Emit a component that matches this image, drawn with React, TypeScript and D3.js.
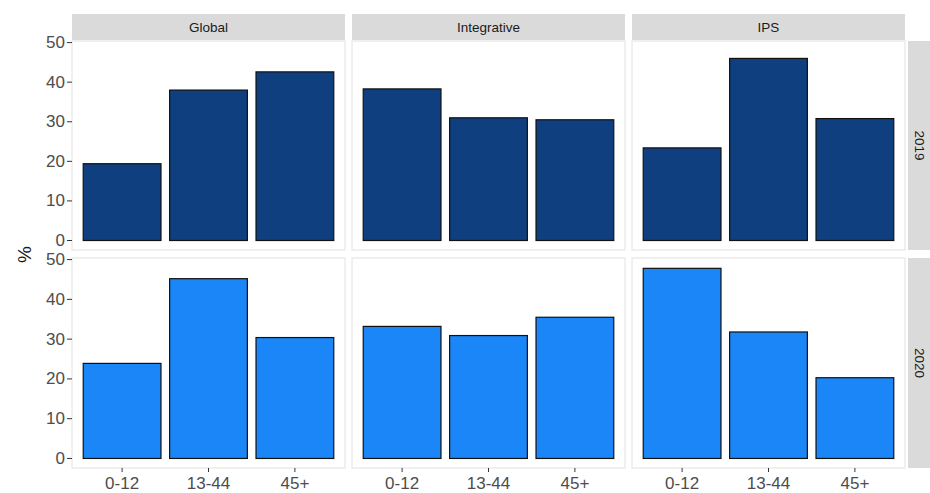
import React from "react";
import * as d3 from "d3";

const groups = ["Global", "Integrative", "IPS"];
const years = ["2019", "2020"];
const ageBands = ["0-12", "13-44", "45+"];
const values2019 = [
  [19.4, 38.0, 42.6],
  [38.3, 31.0, 30.5],
  [23.4, 46.0, 30.8],
];
const values2020 = [
  [23.9, 45.2, 30.4],
  [33.2, 30.9, 35.5],
  [47.8, 31.8, 20.3],
];
const yTicks = [0, 10, 20, 30, 40, 50];
const yearColors = ["#0f3f7f", "#1a86f7"];

const W = 930;
const H = 493;
const panelLeft = 72;
const panelW = 273;
const colGap = 7;
const rowTops = [41, 258];
const panelHs = [209, 210];
const stripTop = 14;
const font = "Liberation Sans, Arial, sans-serif";

export default function App() {
  const allValues = [values2019, values2020];
  const yRows = [
    d3.scaleLinear().domain([-2.4, 50.4]).range([rowTops[0] + panelHs[0], rowTops[0]]),
    d3.scaleLinear().domain([-2.4, 50.4]).range([rowTops[1] + panelHs[1], rowTops[1]]),
  ];
  return (
    <svg
      width={W}
      height={H}
      style={{ position: "absolute", left: 0, top: 0, background: "#ffffff" }}
      fontFamily={font}
    >
      <rect x={0} y={0} width={W} height={H} fill="#ffffff" />
      {groups.map((g, ci) => {
        const px = panelLeft + ci * (panelW + colGap);
        const x = d3
          .scaleBand<string>()
          .domain(ageBands)
          .range([px, px + panelW])
          .paddingInner(0.1)
          .paddingOuter(0.13);
        return (
          <g key={g}>
            <rect x={px} y={stripTop} width={panelW} height={rowTops[0] - stripTop - 1} fill="#dadada" />
            <text
              x={px + panelW / 2}
              y={(stripTop + rowTops[0]) / 2}
              textAnchor="middle"
              dominantBaseline="central"
              fontSize={13.5}
              fill="#1a1a1a"
            >
              {g}
            </text>
            {years.map((yr, ri) => {
              const top = rowTops[ri];
              const y = yRows[ri];
              const vals = allValues[ri][ci];
              return (
                <g key={yr}>
                  <rect x={px} y={top} width={panelW} height={panelHs[ri]} fill="#ffffff" stroke="#ebebeb" strokeWidth={1.5} />
                  {ageBands.map((a, i) => (
                    <rect
                      key={a}
                      x={x(a)}
                      y={y(vals[i])}
                      width={x.bandwidth()}
                      height={y(0) - y(vals[i])}
                      fill={yearColors[ri]}
                      stroke="#111111"
                      strokeWidth={1.2}
                    />
                  ))}
                  {ci === 0 &&
                    yTicks.map((t) => (
                      <g key={t}>
                        <line x1={panelLeft - 5} x2={panelLeft} y1={y(t)} y2={y(t)} stroke="#333333" strokeWidth={1} />
                        <text
                          x={panelLeft - 7}
                          y={y(t)}
                          textAnchor="end"
                          dominantBaseline="central"
                          fontSize={17}
                          fill="#4d4d4d"
                        >
                          {t}
                        </text>
                      </g>
                    ))}
                </g>
              );
            })}
            {ageBands.map((a) => (
              <g key={a}>
                <line
                  x1={(x(a) as number) + x.bandwidth() / 2}
                  x2={(x(a) as number) + x.bandwidth() / 2}
                  y1={rowTops[1] + panelHs[1]}
                  y2={rowTops[1] + panelHs[1] + 4}
                  stroke="#333333"
                />
                <text
                  x={(x(a) as number) + x.bandwidth() / 2}
                  y={rowTops[1] + panelHs[1] + 15}
                  textAnchor="middle"
                  dominantBaseline="central"
                  fontSize={17}
                  fill="#4d4d4d"
                >
                  {a}
                </text>
              </g>
            ))}
          </g>
        );
      })}
      {years.map((yr, ri) => {
        const sx = panelLeft + 3 * panelW + 2 * colGap + 3;
        const top = rowTops[ri];
        return (
          <g key={yr}>
            <rect x={sx} y={top} width={W - sx} height={panelHs[ri]} fill="#dadada" />
            <text
              transform={`translate(${sx + 11},${top + panelHs[ri] / 2}) rotate(90)`}
              textAnchor="middle"
              dominantBaseline="central"
              fontSize={13.5}
              fill="#1a1a1a"
            >
              {yr}
            </text>
          </g>
        );
      })}
      <text
        transform={`translate(24,${(rowTops[0] + rowTops[1] + panelHs[1]) / 2}) rotate(-90)`}
        textAnchor="middle"
        dominantBaseline="central"
        fontSize={19}
        fill="#1a1a1a"
      >
        %
      </text>
    </svg>
  );
}
